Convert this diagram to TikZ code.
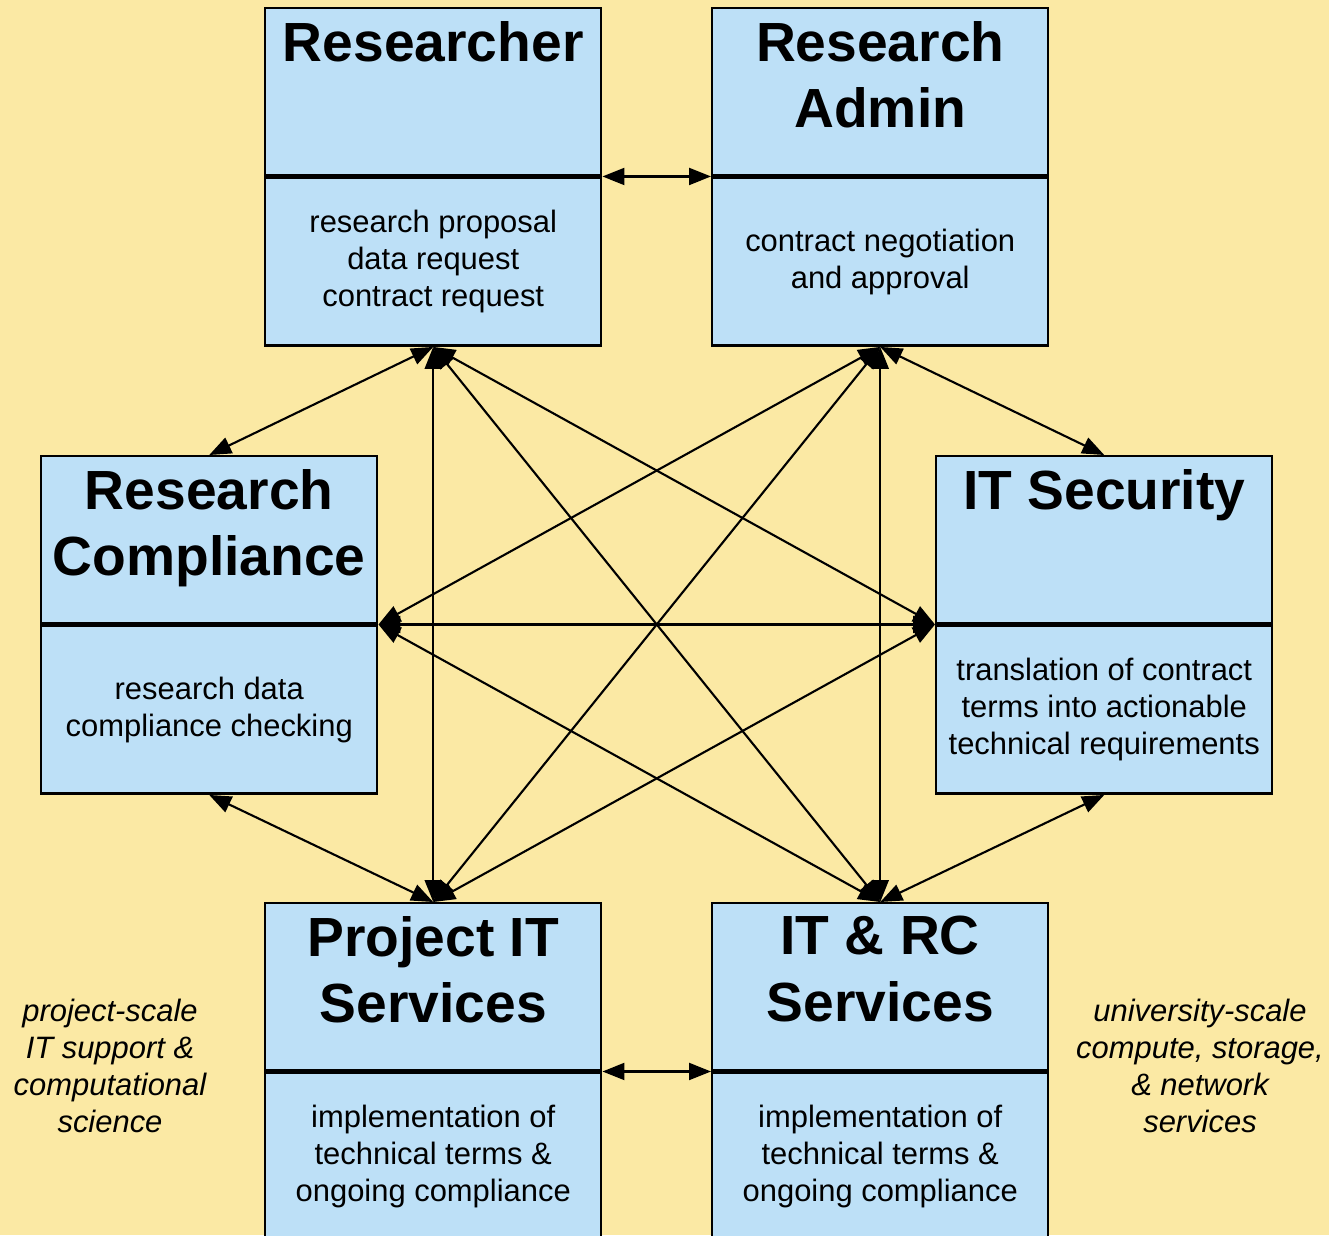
\documentclass[tikz,border=0pt]{standalone}
\usepackage{fontspec}
\setmainfont{Liberation Sans}
\usetikzlibrary{arrows.meta}
\definecolor{bgyellow}{RGB}{251,233,164}
\definecolor{boxblue}{RGB}{189,224,247}
\tikzset{
  headbox/.style={draw,fill=boxblue,line width=0.7pt,minimum width=3.36cm,minimum height=1.67cm,anchor=north west,inner sep=0pt},
  descbox/.style={draw,fill=boxblue,line width=0.7pt,minimum width=3.36cm,minimum height=1.68cm,anchor=north,align=center,inner sep=0pt,font=\fontsize{8.8}{10.6}\selectfont},
  headtext/.style={anchor=north,align=center,inner sep=0pt,yshift=-0.13cm,font=\bfseries\fontsize{15.7}{19}\selectfont},
  sidetext/.style={align=center,font=\itshape\fontsize{8.8}{10.6}\selectfont}
}
\begin{document}
\begin{tikzpicture}[>={Triangle[length=0.22cm,width=0.17cm]},line width=0.6pt]
        \clip(0,0)rectangle(13.29,-12.35);
        \fill[bgyellow](0,0)rectangle(13.29,-12.35);
        % boxes: head part and description part
        \node[headbox,label={[headtext]north:Researcher}](res)at(2.64,-0.07){};
        \node[descbox](resD)at(res.south){research proposal\\data request\\contract request};
        \node[headbox,label={[headtext]north:Research\\Admin}](adm)at(7.11,-0.07){};
        \node[descbox](admD)at(adm.south){contract negotiation\\and approval};
        \node[headbox,label={[headtext]north:Research\\Compliance}](cmp)at(0.40,-4.55){};
        \node[descbox](cmpD)at(cmp.south){research data\\compliance checking};
        \node[headbox,label={[headtext]north:IT Security}](sec)at(9.35,-4.55){};
        \node[descbox](secD)at(sec.south){translation of contract\\terms into actionable\\technical requirements};
        \node[headbox,label={[headtext]north:Project IT\\Services}](pit)at(2.64,-9.02){};
        \node[descbox](pitD)at(pit.south){implementation of\\technical terms \&\\ongoing compliance};
        \node[headbox,label={[headtext]north:IT \& RC\\Services}](rcs)at(7.11,-9.02){};
        \node[descbox](rcsD)at(rcs.south){implementation of\\technical terms \&\\ongoing compliance};
        \node[sidetext](pitnote)at(1.10,-10.66){project-scale\\IT support \&\\computational\\science};
        \node[sidetext](rcsnote)at(12.00,-10.66){university-scale\\compute, storage,\\\& network\\services};
        % connectors
        \foreach\a/\b in{res.south east/adm.south west,pit.south east/rcs.south west,cmp.south east/sec.south west,
            resD.south/cmp.north,admD.south/sec.north,cmpD.south/pit.north,secD.south/rcs.north,
            resD.south/pit.north,admD.south/rcs.north,resD.south/rcs.north,admD.south/pit.north,
            resD.south/sec.south west,admD.south/cmp.south east,cmp.south east/rcs.north,sec.south west/pit.north}
            \draw[<->](\a)--(\b);
    \end{tikzpicture}
\end{document}
